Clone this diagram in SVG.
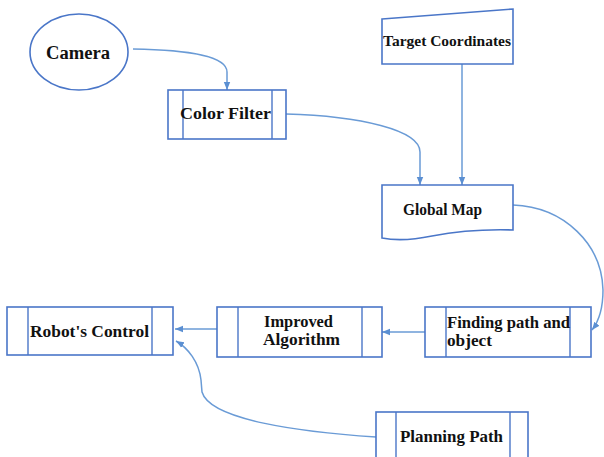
<svg xmlns="http://www.w3.org/2000/svg" width="604" height="457" viewBox="0 0 604 457">
<style>
.node{fill:#fff;stroke:#4a76c8;stroke-width:1.6}
.inner{stroke:#4a76c8;stroke-width:1.4;fill:none}
.conn{fill:none;stroke:#6a9bd6;stroke-width:1.5}
text{font-family:"Liberation Serif","Times New Roman",serif;font-weight:bold;font-size:16px;fill:#111}
</style>
<defs>
<marker id="arr" markerUnits="userSpaceOnUse" markerWidth="8" markerHeight="8" viewBox="0 0 10 10" refX="10" refY="5" orient="auto">
<path d="M0,1 L10,5 L0,9 Z" fill="#5b8fd2"/>
</marker>
</defs>
<rect width="604" height="457" fill="#fff"/>
<g id="connectors">
<path class="conn" d="M133,49 C190,50 227,56 227,72 V90" marker-end="url(#arr)"/>
<path class="conn" d="M286,114 C360,116 420,130 420,152 V185" marker-end="url(#arr)"/>
<path class="conn" d="M462,64 V185" marker-end="url(#arr)"/>
<path class="conn" d="M513,205 C565,207 602,245 603,290 C603,310 599,321 592,330" marker-end="url(#arr)"/>
<path class="conn" d="M425,332 H382" marker-end="url(#arr)"/>
<path class="conn" d="M217,329 H175" marker-end="url(#arr)"/>
<path class="conn" d="M376,437 C300,432 210,420 202,392 L201,380 C199,362 188,348 176,341" marker-end="url(#arr)"/>
</g>
<g id="camera">
<ellipse class="node" cx="79" cy="52" rx="49" ry="38"/>
<text x="46" y="59" textLength="64" lengthAdjust="spacingAndGlyphs" style="font-size:18px">Camera</text>
</g>
<g id="color-filter">
<rect class="node" x="168" y="90" width="118" height="49"/>
<line class="inner" x1="183" y1="90" x2="183" y2="139"/>
<line class="inner" x1="272" y1="90" x2="272" y2="139"/>
<text x="180" y="119" textLength="91" lengthAdjust="spacingAndGlyphs">Color Filter</text>
</g>
<g id="target-coordinates">
<path class="node" d="M382,19 L513,9 L513,64 L382,64 Z"/>
<text x="383" y="46" textLength="128" lengthAdjust="spacingAndGlyphs" style="font-size:15px">Target Coordinates</text>
</g>
<g id="global-map">
<path class="node" d="M382,185 H513 V230 C480,229 458,231 432,236 C408,241 392,240 382,238 Z"/>
<text x="403" y="215" textLength="79" lengthAdjust="spacingAndGlyphs">Global Map</text>
</g>
<g id="finding-path">
<rect class="node" x="425" y="307" width="166" height="50"/>
<line class="inner" x1="446" y1="307" x2="446" y2="357"/>
<line class="inner" x1="570" y1="307" x2="570" y2="357"/>
<text x="447" y="328" textLength="123" lengthAdjust="spacingAndGlyphs">Finding path and</text>
<text x="447" y="346" textLength="45" lengthAdjust="spacingAndGlyphs">object</text>
</g>
<g id="improved-algorithm">
<rect class="node" x="217" y="307" width="165" height="50"/>
<line class="inner" x1="238" y1="307" x2="238" y2="357"/>
<line class="inner" x1="362" y1="307" x2="362" y2="357"/>
<text x="264" y="327" textLength="69" lengthAdjust="spacingAndGlyphs">Improved</text>
<text x="263" y="345" textLength="77" lengthAdjust="spacingAndGlyphs">Algorithm</text>
</g>
<g id="robots-control">
<rect class="node" x="7" y="307" width="166" height="48"/>
<line class="inner" x1="28" y1="307" x2="28" y2="355"/>
<line class="inner" x1="152" y1="307" x2="152" y2="355"/>
<text x="30" y="337" textLength="119" lengthAdjust="spacingAndGlyphs">Robot's Control</text>
</g>
<g id="planning-path">
<rect class="node" x="376" y="412" width="152" height="50"/>
<line class="inner" x1="396" y1="412" x2="396" y2="462"/>
<line class="inner" x1="510" y1="412" x2="510" y2="462"/>
<text x="400" y="442" textLength="103" lengthAdjust="spacingAndGlyphs">Planning Path</text>
</g>
</svg>
